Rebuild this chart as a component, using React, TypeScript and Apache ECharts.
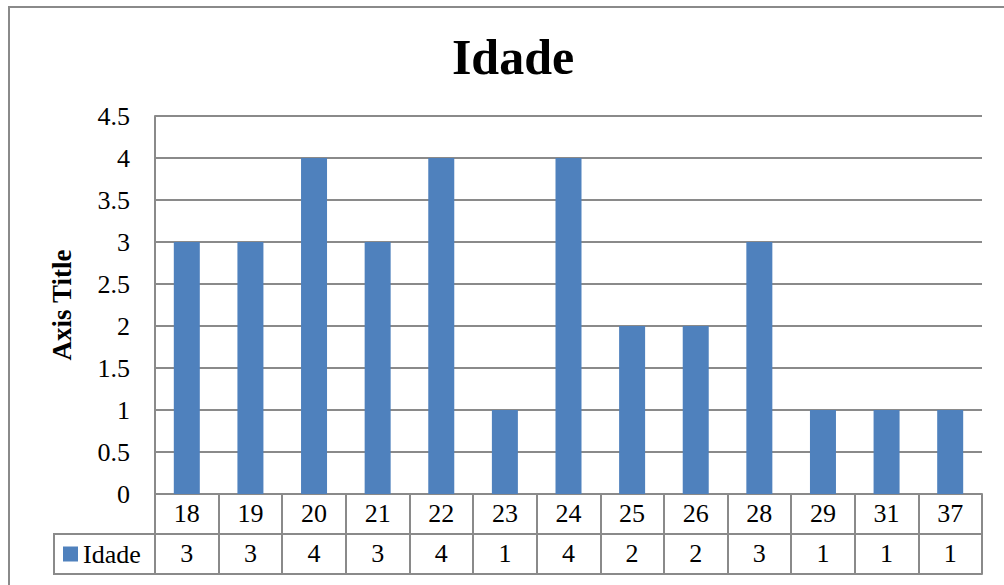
import React, { useEffect, useRef } from "react";
import * as echarts from "echarts";

const ages = ["18", "19", "20", "21", "22", "23", "24", "25", "26", "28", "29", "31", "37"];
const counts = [3, 3, 4, 3, 4, 1, 4, 2, 2, 3, 1, 1, 1];
const seriesName = "Idade";
const chartTitle = "Idade";
const yAxisTitle = "Axis Title";

const FONT = "'Liberation Serif', 'Times New Roman', serif";
const GRAY = "#8a8a8a";
const BLUE = "#4F81BD";

const GRID = { left: 155, top: 116, right: 22, bottom: 91 };
const ROW_H = 40;
const LABEL_SIZE = 26;

export default function App() {
  const ref = useRef<HTMLDivElement>(null);
  useEffect(() => {
    if (!ref.current) return;
    const chart = echarts.init(ref.current, undefined, { renderer: "svg" });
    const axisBottomY = 585 - GRID.bottom;
    chart.setOption({
      animation: false,
      backgroundColor: "#ffffff",
      title: {
        text: chartTitle,
        left: 508,
        top: 27,
        textAlign: "center",
        textStyle: { fontFamily: FONT, fontSize: 50, fontWeight: "bold", color: "#000" },
      },
      legend: {
        data: [{ name: seriesName, icon: "rect" }],
        left: 63,
        top: 541,
        padding: 0,
        itemWidth: 15,
        itemHeight: 15,
        itemGap: 5,
        textStyle: { fontFamily: FONT, fontSize: LABEL_SIZE, color: "#000" },
      },
      grid: { left: GRID.left, top: GRID.top, right: GRID.right, bottom: GRID.bottom, containLabel: false },
      xAxis: [
        {
          type: "category",
          data: ages,
          position: "bottom",
          axisLine: { show: true, lineStyle: { color: GRAY, width: 2 } },
          axisTick: { show: true, length: ROW_H * 2, inside: false, lineStyle: { color: GRAY, width: 2 } },
          axisLabel: { fontFamily: FONT, fontSize: LABEL_SIZE, color: "#000", margin: -1, lineHeight: ROW_H, verticalAlign: "top" },
        },
        {
          type: "category",
          data: ages,
          position: "bottom",
          offset: ROW_H,
          axisLine: { show: true, lineStyle: { color: GRAY, width: 2 } },
          axisTick: { show: false },
          axisLabel: {
            fontFamily: FONT,
            fontSize: LABEL_SIZE,
            color: "#000",
            margin: -1,
            lineHeight: ROW_H,
            verticalAlign: "top",
            formatter: (_v: string, i: number) => String(counts[i]),
          },
        },
        {
          type: "category",
          data: ages,
          position: "bottom",
          offset: ROW_H * 2,
          axisLine: { show: true, lineStyle: { color: GRAY, width: 2 } },
          axisTick: { show: false },
          axisLabel: { show: false },
        },
      ],
      yAxis: {
        type: "value",
        min: 0,
        max: 4.5,
        interval: 0.5,
        name: yAxisTitle,
        nameLocation: "middle",
        nameGap: 80,
        nameTextStyle: { fontFamily: FONT, fontSize: 27, fontWeight: "bold", color: "#000" },
        axisLine: { show: true, lineStyle: { color: GRAY, width: 2 } },
        axisTick: { show: false },
        axisLabel: { fontFamily: FONT, fontSize: LABEL_SIZE, color: "#000", margin: 25 },
        splitLine: { show: true, lineStyle: { color: GRAY, width: 2 } },
      },
      series: [
        {
          name: seriesName,
          type: "bar",
          data: counts,
          xAxisIndex: 0,
          barWidth: 26,
          itemStyle: { color: BLUE },
        },
      ],
      graphic: [
        {
          type: "rect",
          shape: { x: 9, y: 7, width: 1200, height: 800 },
          style: { fill: "none", stroke: GRAY, lineWidth: 2 },
          silent: true,
          z: 0,
        },
        {
          type: "rect",
          shape: { x: 54, y: axisBottomY + ROW_H, width: GRID.left - 54, height: ROW_H },
          style: { fill: "none", stroke: GRAY, lineWidth: 2 },
          silent: true,
          z: 0,
        },
      ],
    });
    return () => chart.dispose();
  }, []);
  return <div ref={ref} style={{ position: "absolute", left: 0, top: 0, width: 1004, height: 585 }} />;
}
